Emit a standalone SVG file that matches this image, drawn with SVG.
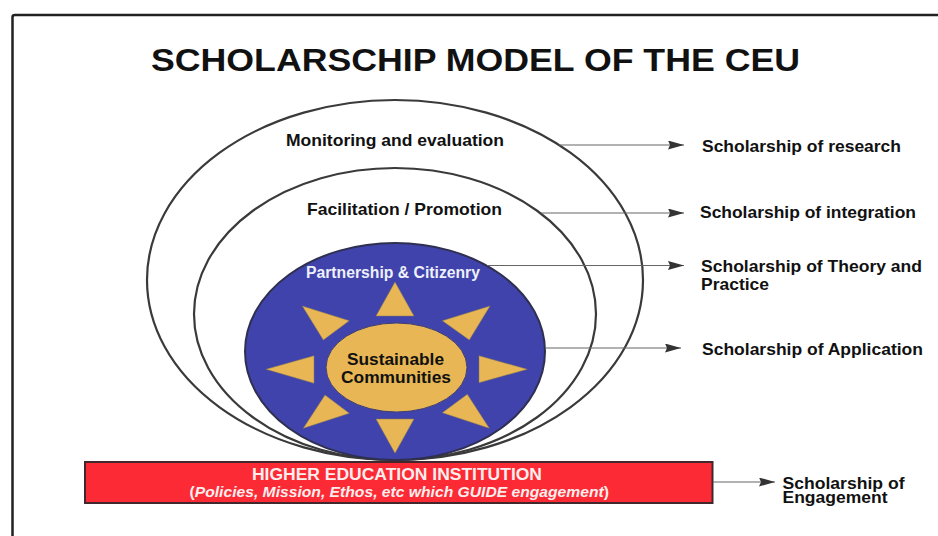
<svg xmlns="http://www.w3.org/2000/svg" width="938" height="536" viewBox="0 0 938 536">
<style>
text{font-family:"Liberation Sans",Arial,sans-serif;font-weight:700}
.l{font-size:17px;fill:#111}
.o{fill:none;stroke:#3a3a3a;stroke-width:2.200}
.c{fill:none;stroke:#666;stroke-width:1.200}
.t{fill:#e8b654;stroke:#8a7a50;stroke-width:.5}
</style>
<defs>
<marker id="a" markerUnits="userSpaceOnUse" markerWidth="17" markerHeight="9" refX="16" refY="4.5" orient="auto"><path d="M0 0L16 4.5L0 9L2 4.500Z" fill="#333"/></marker>
</defs>
<rect width="938" height="536" fill="#fff"/>
<path d="M12.500 536V17Q12.500 15 15 15H938" fill="none" stroke="#222" stroke-width="2.500"/>
<text id="title" x="151" y="71" font-size="32" fill="#111" textLength="649" lengthAdjust="spacingAndGlyphs">SCHOLARSCHIP MODEL OF THE CEU</text>
<g id="outer"><ellipse class="o" cx="395" cy="280" rx="248" ry="180"/><text class="l" x="286" y="146" textLength="218" lengthAdjust="spacingAndGlyphs">Monitoring and evaluation</text></g>
<g id="middle"><ellipse class="o" cx="395" cy="314" rx="201" ry="146"/><text class="l" x="307" y="215" textLength="195" lengthAdjust="spacingAndGlyphs">Facilitation / Promotion</text></g>
<g id="partnership"><ellipse cx="395" cy="351.500" rx="150" ry="108.500" fill="#3f43ab" stroke="#2f2f50" stroke-width="2"/>
<text x="306" y="278" font-size="16" fill="#eef0fa" textLength="174" lengthAdjust="spacingAndGlyphs">Partnership &amp; Citizenry</text>
<g id="rays">
<path class="t" d="M395 282L376 316H414Z"/>
<path class="t" d="M490 306L442.300 320.700L469.300 340Z"/>
<path class="t" d="M302.300 306L349.300 320.700L323.300 340Z"/>
<path class="t" d="M266 369.300L314 355.700V383.300Z"/>
<path class="t" d="M527.300 369.300L479 355.700V382.700Z"/>
<path class="t" d="M303.300 428.300L325 395L349.300 413.300Z"/>
<path class="t" d="M489.300 428.300L467.300 394.300L442.300 412.700Z"/>
<path class="t" d="M395 453.300L376 419H414Z"/>
</g></g>
<g id="core"><ellipse cx="396.500" cy="367.500" rx="70.500" ry="44.500" fill="#e8b654" stroke="#3f3f70"/>
<text class="l" x="347" y="364.500" textLength="97" lengthAdjust="spacingAndGlyphs">Sustainable</text><text class="l" x="341" y="383" textLength="110" lengthAdjust="spacingAndGlyphs">Communities</text></g>
<g id="institution"><rect x="85" y="462" width="627.500" height="41" fill="#fb2a35" stroke="#40282c" stroke-width="2"/>
<text x="252" y="479.500" font-size="16" fill="#fdeeee" textLength="290" lengthAdjust="spacingAndGlyphs">HIGHER EDUCATION INSTITUTION</text>
<text x="189.500" y="496.500" font-size="14.500" fill="#fdeeee" textLength="419.500" lengthAdjust="spacingAndGlyphs">(<tspan font-style="italic">Policies, Mission, Ethos, etc which GUIDE engagement</tspan>)</text></g>
<g id="connectors">
<path class="c" marker-end="url(#a)" d="M559 145H684"/>
<path class="c" marker-end="url(#a)" d="M541 213H684"/>
<path class="c" marker-end="url(#a)" d="M487 265.500H684"/>
<path class="c" marker-end="url(#a)" d="M545 348H681"/>
<path class="c" marker-end="url(#a)" d="M713 482H775"/>
</g>
<g id="labels">
<text class="l" x="702" y="151.500" textLength="199" lengthAdjust="spacingAndGlyphs">Scholarship of research</text>
<text class="l" x="700" y="218.300" textLength="216" lengthAdjust="spacingAndGlyphs">Scholarship of integration</text>
<text class="l" x="701" y="271.500" textLength="221" lengthAdjust="spacingAndGlyphs">Scholarship of Theory and</text>
<text class="l" x="701" y="290" textLength="68" lengthAdjust="spacingAndGlyphs">Practice</text>
<text class="l" x="702" y="355" textLength="221" lengthAdjust="spacingAndGlyphs">Scholarship of Application</text>
<text class="l" x="782.500" y="488.700" textLength="122" lengthAdjust="spacingAndGlyphs">Scholarship of</text>
<text class="l" x="782.500" y="503" textLength="105" lengthAdjust="spacingAndGlyphs">Engagement</text>
</g>
</svg>
